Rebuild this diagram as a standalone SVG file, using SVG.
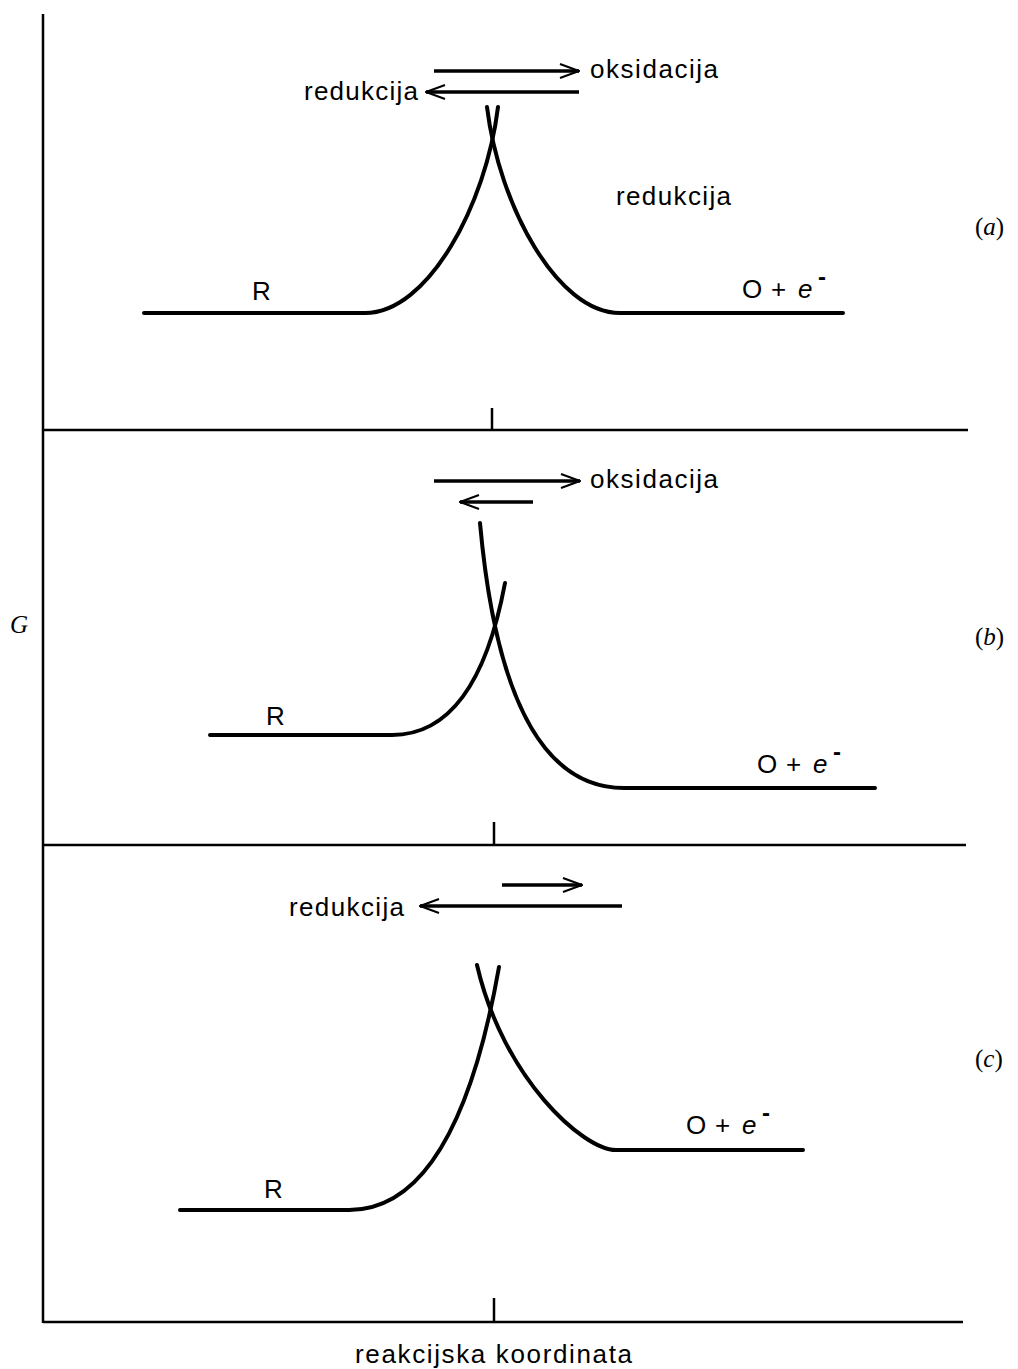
<svg xmlns="http://www.w3.org/2000/svg" width="1018" height="1369" viewBox="0 0 1018 1369">
<style>
.ax{stroke:#000;stroke-width:2.5;fill:none}
.cv{stroke:#000;stroke-width:4;fill:none;stroke-linecap:round}
.ar{stroke:#000;stroke-width:3.5;fill:none;marker-end:url(#ah)}
.lb{font-family:"Liberation Sans",Arial,sans-serif;font-size:26px;fill:#000}
.sr{font-family:"Liberation Serif","Times New Roman",serif;font-size:25px;fill:#000}
.sup{font-size:24px;font-weight:bold}
</style>
<defs>
<marker id="ah" viewBox="0 0 22 16" refX="21" refY="8" markerWidth="22" markerHeight="16" markerUnits="userSpaceOnUse" orient="auto">
<path d="M2,1 L21,8 L2,15" fill="none" stroke="#000" stroke-width="2"/>
</marker>
</defs>
<g id="axes">
<line class="ax" x1="43" y1="14" x2="43" y2="1323"/>
<line class="ax" x1="43" y1="430" x2="968" y2="430"/>
<line class="ax" x1="43" y1="845" x2="966" y2="845"/>
<line class="ax" x1="43" y1="1322" x2="963" y2="1322"/>
<line class="ax" stroke-width="2" x1="492" y1="408" x2="492" y2="430"/>
<line class="ax" stroke-width="2" x1="494" y1="822" x2="494" y2="845"/>
<line class="ax" stroke-width="2" x1="494" y1="1298" x2="494" y2="1322"/>
<text class="sr" x="10" y="633"><tspan font-style="italic">G</tspan></text>
<text class="lb" x="355" y="1363" font-size="28" textLength="277" lengthAdjust="spacing">reakcijska koordinata</text>
</g>
<g id="panel-a">
<path class="cv" d="M144,313 L365,313 C428,313 486,205 498,107"/>
<path class="cv" d="M487,107 C499,205 557,313 620,313 L843,313"/>
<text class="lb" x="252" y="300">R</text>
<text class="lb" y="298"><tspan x="742">O</tspan><tspan x="771">+</tspan><tspan x="798" font-style="italic">e</tspan><tspan class="sup" x="818" dy="-13">-</tspan></text>
<text class="lb" x="590" y="78" textLength="128" lengthAdjust="spacing">oksidacija</text>
<text class="lb" x="304" y="100" textLength="114" lengthAdjust="spacing">redukcija</text>
<text class="lb" x="616" y="205" textLength="115" lengthAdjust="spacing">redukcija</text>
<text class="sr" x="975" y="235">(<tspan font-style="italic">a</tspan>)</text>
</g>
<g id="panel-b">
<path class="cv" d="M210,735 L392,735 C445,735 485,690 505,583"/>
<path class="cv" d="M480,523 C495,690 540,788 624,788 L875,788"/>
<text class="lb" x="266" y="725">R</text>
<text class="lb" y="773"><tspan x="757">O</tspan><tspan x="786">+</tspan><tspan x="813" font-style="italic">e</tspan><tspan class="sup" x="833" dy="-13">-</tspan></text>
<text class="lb" x="590" y="488" textLength="128" lengthAdjust="spacing">oksidacija</text>
<text class="sr" x="975" y="645">(<tspan font-style="italic">b</tspan>)</text>
</g>
<g id="panel-c">
<path class="cv" d="M180,1210 L349,1210 C405,1210 465,1160 499,967"/>
<path class="cv" d="M477,965 C503,1078 583,1150 616,1150 L803,1150"/>
<text class="lb" x="264" y="1198">R</text>
<text class="lb" y="1134"><tspan x="686">O</tspan><tspan x="715">+</tspan><tspan x="742" font-style="italic">e</tspan><tspan class="sup" x="762" dy="-13">-</tspan></text>
<text class="lb" x="289" y="916" textLength="115" lengthAdjust="spacing">redukcija</text>
<text class="sr" x="975" y="1067">(<tspan font-style="italic">c</tspan>)</text>
</g>
<g id="connectors">
<line class="ar" x1="434" y1="71" x2="579" y2="71"/>
<line class="ar" x1="579" y1="92" x2="426" y2="92"/>
<line class="ar" x1="434" y1="481" x2="580" y2="481"/>
<line class="ar" x1="533" y1="502" x2="460" y2="502"/>
<line class="ar" x1="502" y1="885" x2="582" y2="885"/>
<line class="ar" x1="622" y1="906" x2="420" y2="906"/>
</g>
</svg>
